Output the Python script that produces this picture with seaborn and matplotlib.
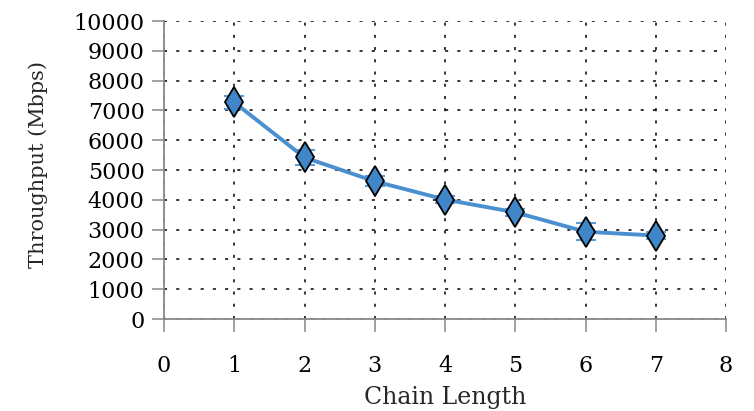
import pandas as pd
import matplotlib
matplotlib.use("Agg")
import matplotlib.pyplot as plt
import seaborn as sns

# Data
chain_length = [1, 2, 3, 4, 5, 6, 7]
throughput = [7270, 5420, 4620, 4010, 3580, 2930, 2800]
throughput_err = [230, 260, 170, 110, 110, 280, 110]

df = pd.DataFrame({"Chain Length": chain_length, "Throughput": throughput})

sns.set_style("white")
plt.rcParams["font.family"] = ["DejaVu Serif"]

fig = plt.figure(figsize=(7.54, 4.11), dpi=100)
ax = fig.add_axes([0.2175, 0.2238, 0.7454, 0.7251])

line_color = "#4a8fd0"

ax.errorbar(chain_length, throughput, yerr=throughput_err, fmt="none",
            ecolor="#5b9bd8", elinewidth=1.5, capsize=7, capthick=1.5, zorder=2)
sns.lineplot(data=df, x="Chain Length", y="Throughput", ax=ax,
             color=line_color, linewidth=2.8, marker="d", markersize=15,
             markerfacecolor="#3f87c8", markeredgecolor="black",
             markeredgewidth=1.3, zorder=3)

ax.set_xlim(0, 8)
ax.set_ylim(0, 10000)
ax.set_xticks(range(0, 9))
ax.set_yticks(range(0, 10001, 1000))
ax.grid(True, color="black", linestyle=(0, (2, 6)), linewidth=1.1)
ax.set_axisbelow(True)

for side in ["top", "right"]:
    ax.spines[side].set_visible(False)
for side in ["left", "bottom"]:
    ax.spines[side].set_color("#888888")
    ax.spines[side].set_linewidth(1.3)

ax.tick_params(axis="both", bottom=True, left=True, direction="out",
               length=9, width=1.1, color="#888888", labelsize=16,
               labelcolor="black")
ax.tick_params(axis="x", pad=17)
ax.tick_params(axis="y", pad=5)

ax.set_xlabel("Chain Length", fontsize=17)
ax.set_ylabel("Throughput (Mbps)", fontsize=15)
ax.xaxis.set_label_coords(0.5, -0.225)
ax.yaxis.set_label_coords(-0.206, 0.517)

fig.savefig("out.png", dpi=100)
